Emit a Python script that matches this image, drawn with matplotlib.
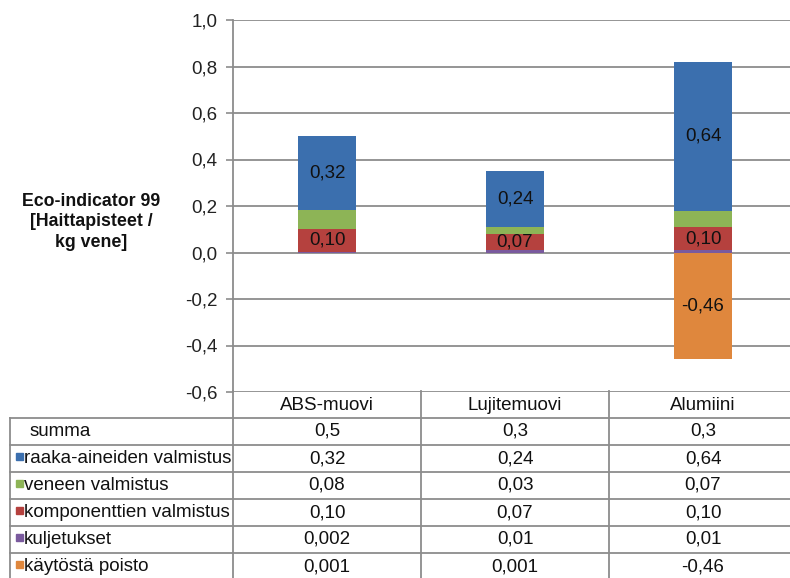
import matplotlib.pyplot as plt
import numpy as np

plt.rcParams['font.family'] = ['Liberation Sans', 'DejaVu Sans']

categories = ['ABS-muovi', 'Lujitemuovi', 'Alumiini']
series_names = ['raaka-aineiden valmistus', 'veneen valmistus',
                'komponenttien valmistus', 'kuljetukset', 'käytöstä poisto']
raaka = [0.32, 0.24, 0.64]
veneen = [0.08, 0.03, 0.07]
komponentit = [0.10, 0.07, 0.10]
kuljetukset = [0.002, 0.01, 0.01]
poisto = [0.001, 0.001, -0.46]
series_colors = ['#3b6fae', '#8db456', '#b5413e', '#7a5a9e', '#df873d']

# table text as printed
summa_txt = ['0,5', '0,3', '0,3']
raaka_txt = ['0,32', '0,24', '0,64']
veneen_txt = ['0,08', '0,03', '0,07']
komp_txt = ['0,10', '0,07', '0,10']
kulj_txt = ['0,002', '0,01', '0,01']
poisto_txt = ['0,001', '0,001', '-0,46']

yticks = [-0.6, -0.4, -0.2, 0.0, 0.2, 0.4, 0.6, 0.8, 1.0]

FS = 13.5
W, H = 790, 578
fig = plt.figure(figsize=(W / 100, H / 100), dpi=100)
fig.patch.set_facecolor('white')

ax_l, ax_r = 233, 797
ax_t, ax_b = 20, 392
ax = fig.add_axes([ax_l / W, 1 - ax_b / H, (ax_r - ax_l) / W, (ax_b - ax_t) / H])

x = np.arange(len(categories))
bw = 0.31
grid_c = '#8c8c8c'
txt_c = '#111111'

# positive parts stacked from the bottom up, drawing order as in the chart
stack = [(kuljetukset, series_colors[3]), (komponentit, series_colors[2]),
         (veneen, series_colors[1]), (raaka, series_colors[0])]
pos_bottom = np.zeros(3)
neg_bottom = np.zeros(3)
rects = {}
for vals, col in stack + [(poisto, series_colors[4])]:
    v = np.array(vals, dtype=float)
    bot = np.where(v >= 0, pos_bottom, neg_bottom)
    rects[col] = ax.bar(x, v, bw, bottom=bot, color=col, zorder=3)
    pos_bottom = pos_bottom + np.where(v >= 0, v, 0)
    neg_bottom = neg_bottom + np.where(v < 0, v, 0)

def fmt(v):
    return ('%.2f' % v).replace('.', ',')

for vals, col in [(raaka, series_colors[0]), (komponentit, series_colors[2])]:
    for r, v in zip(rects[col], vals):
        ax.text(r.get_x() + r.get_width() / 2, r.get_y() + r.get_height() / 2,
                fmt(v), ha='center', va='center', fontsize=FS, color=txt_c, zorder=4)
for r, v in zip(rects[series_colors[4]], poisto):
    if v < -0.05:
        ax.text(r.get_x() + r.get_width() / 2, r.get_y() + r.get_height() / 2,
                fmt(v), ha='center', va='center', fontsize=FS, color=txt_c, zorder=4)

ax.set_xlim(-0.5, 2.5)
ax.set_ylim(-0.6, 1.0)
ax.set_yticks(yticks)
ax.set_yticklabels([('%.1f' % t).replace('.', ',') for t in yticks])
ax.set_xticks([])
ax.yaxis.grid(True, color=grid_c, lw=1.3, zorder=0)
for s in ['top', 'right', 'bottom']:
    ax.spines[s].set_visible(False)
ax.spines['left'].set_color(grid_c)
ax.spines['left'].set_linewidth(1.3)
ax.tick_params(axis='y', length=5, width=1.2, color=grid_c, labelsize=FS,
               labelcolor='#222222', pad=6)

fig.text(91 / W, 1 - 222 / H, 'Eco-indicator 99\n[Haittapisteet /\nkg vene]',
         ha='center', va='center', fontsize=12.8, fontweight='bold',
         linespacing=1.3, color=txt_c)

# data table under the chart, columns aligned with the bars
row_h = 27
tab_top = 391
rows = [('summa', None, summa_txt),
        (series_names[0], series_colors[0], raaka_txt),
        (series_names[1], series_colors[1], veneen_txt),
        (series_names[2], series_colors[2], komp_txt),
        (series_names[3], series_colors[3], kulj_txt),
        (series_names[4], series_colors[4], poisto_txt)]
n = len(rows) + 1
unit = (ax_r - ax_l) / 3.0
tab_l = 10
lab_w = (ax_l - tab_l) / unit
tax = fig.add_axes([tab_l / W, 1 - (tab_top + n * row_h) / H,
                    (ax_r - tab_l) / W, n * row_h / H])
tax.set_xlim(-0.5 - lab_w, 2.5)
tax.set_ylim(n, 0)
tax.axis('off')

line_kw = dict(color=grid_c, lw=1.3, clip_on=False)
# horizontal row lines
for i in range(1, n + 1):
    tax.plot([-0.5 - lab_w, 2.5], [i, i], **line_kw)
# vertical column lines
tax.plot([-0.5 - lab_w] * 2, [1, n], **line_kw)
for xc in [-0.5, 0.5, 1.5]:
    tax.plot([xc, xc], [0, n], **line_kw)

for j, c in enumerate(categories):
    tax.text(j, 0.55, c, ha='center', va='center', fontsize=FS, color=txt_c)

left = -0.5 - lab_w
for i, (name, col, txts) in enumerate(rows, start=1):
    yc = i + 0.5
    if col is None:
        tax.text(left + 20 / unit, yc, name, ha='left', va='center',
                 fontsize=FS, color=txt_c)
    else:
        tax.add_patch(plt.Rectangle((left + 6 / unit, yc - 0.21), 7 / unit, 0.25,
                                    color=col, clip_on=False))
        tax.text(left + 14 / unit, yc, name, ha='left', va='center',
                 fontsize=FS, color=txt_c)
    for j, t in enumerate(txts):
        tax.text(j, yc, t, ha='center', va='center', fontsize=FS, color=txt_c)

fig.savefig('out.png', dpi=100, facecolor='white')
